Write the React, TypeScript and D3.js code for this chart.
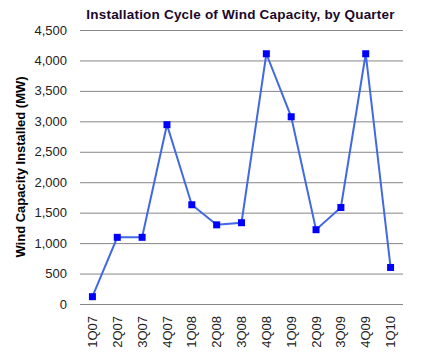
import { useEffect, useRef } from 'react';
import * as d3 from 'd3';

const quarters = ['1Q07', '2Q07', '3Q07', '4Q07', '1Q08', '2Q08', '3Q08', '4Q08', '1Q09', '2Q09', '3Q09', '4Q09', '1Q10'];
const installed = [120, 1095, 1095, 2945, 1630, 1300, 1335, 4110, 3075, 1220, 1585, 4110, 600];
const yTicks = [0, 500, 1000, 1500, 2000, 2500, 3000, 3500, 4000, 4500];

const width = 424;
const height = 364;

export default function App() {
  const svgRef = useRef<SVGSVGElement>(null);

  useEffect(() => {
    if (!svgRef.current) return;
    const svg = d3.select(svgRef.current);
    svg.selectAll('*').remove();

    const margin = { top: 30, right: 21, bottom: 60, left: 80 };
    const innerWidth = width - margin.left - margin.right;
    const innerHeight = height - margin.top - margin.bottom;

    const x = d3.scaleBand().domain(quarters).range([0, innerWidth]);
    const y = d3.scaleLinear().domain([0, 4500]).range([innerHeight, 0]);

    svg.append('rect').attr('width', width).attr('height', height).attr('fill', '#fff');

    const g = svg.append('g').attr('transform', `translate(${margin.left},${margin.top})`);

    // Gridlines
    g.selectAll('.grid')
      .data(yTicks)
      .enter().append('line')
      .attr('x1', 0)
      .attr('x2', innerWidth)
      .attr('y1', d => y(d) + 0.5)
      .attr('y2', d => y(d) + 0.5)
      .attr('stroke', '#868686')
      .attr('stroke-width', 1);

    // Y tick labels
    g.selectAll('.ylab')
      .data(yTicks)
      .enter().append('text')
      .attr('x', -13)
      .attr('y', d => y(d))
      .attr('dy', '0.35em')
      .attr('text-anchor', 'end')
      .attr('font-family', 'Arial, "Liberation Sans", sans-serif')
      .attr('font-size', '13px')
      .attr('fill', '#222')
      .text(d => d3.format(',')(d));

    // X tick labels
    g.selectAll('.xlab')
      .data(quarters)
      .enter().append('text')
      .attr('transform', d => `translate(${(x(d) || 0) + x.bandwidth() / 2},${innerHeight + 12}) rotate(-90)`)
      .attr('dy', '0.35em')
      .attr('text-anchor', 'end')
      .attr('font-family', 'Arial, "Liberation Sans", sans-serif')
      .attr('font-size', '13px')
      .attr('fill', '#222')
      .text(d => d);

    const cx = (d: string) => (x(d) || 0) + x.bandwidth() / 2;

    const line = d3.line<number>()
      .x((d, i) => cx(quarters[i]))
      .y(d => y(d));

    g.append('path')
      .datum(installed)
      .attr('fill', 'none')
      .attr('stroke', '#4169E1')
      .attr('stroke-width', 2)
      .attr('d', line);

    g.selectAll('.dot')
      .data(installed)
      .enter().append('rect')
      .attr('x', (d, i) => cx(quarters[i]) - 3.5)
      .attr('y', d => y(d) - 3.5)
      .attr('width', 7)
      .attr('height', 7)
      .attr('fill', '#0000ff');

    // Title
    svg.append('text')
      .attr('x', margin.left + innerWidth / 2 - 1)
      .attr('y', 19)
      .attr('text-anchor', 'middle')
      .attr('font-family', 'Arial, "Liberation Sans", sans-serif')
      .attr('font-size', '13.5px')
      .attr('font-weight', 'bold')
      .attr('letter-spacing', '0.2px')
      .attr('fill', '#1a0a2a')
      .text('Installation Cycle of Wind Capacity, by Quarter');

    // Y axis title
    svg.append('text')
      .attr('transform', `translate(20,${margin.top + innerHeight / 2}) rotate(-90)`)
      .attr('text-anchor', 'middle')
      .attr('dy', '0.35em')
      .attr('font-family', 'Arial, "Liberation Sans", sans-serif')
      .attr('font-size', '13px')
      .attr('font-weight', 'bold')
      .attr('fill', '#000')
      .text('Wind Capacity Installed (MW)');
  }, []);

  return (
    <svg ref={svgRef} width={width} height={height} style={{ position: 'absolute', left: 0, top: 0 }} />
  );
}
